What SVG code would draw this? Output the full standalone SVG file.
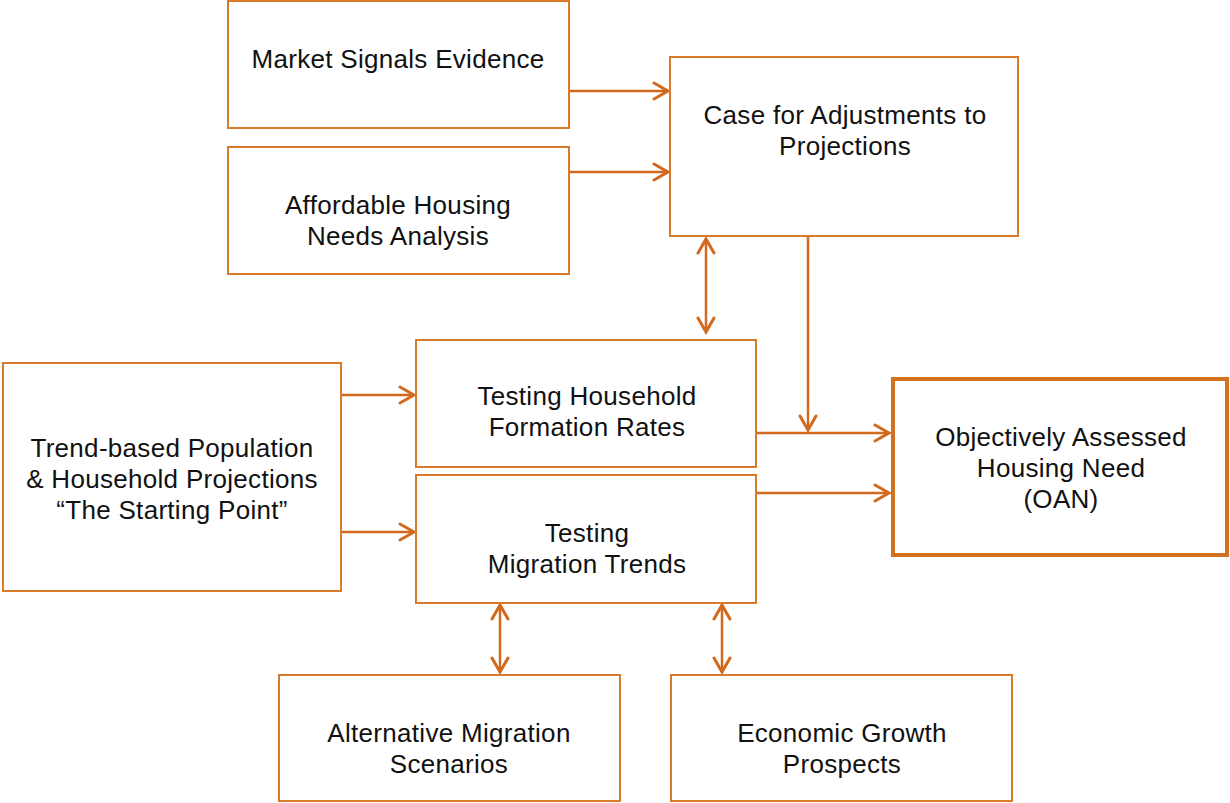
<svg xmlns="http://www.w3.org/2000/svg" width="1230" height="803" viewBox="0 0 1230 803">
<defs>
<marker id="ah" viewBox="0 0 20 20" refX="17" refY="10" markerWidth="20" markerHeight="20" markerUnits="userSpaceOnUse" orient="auto-start-reverse">
<path d="M3,2 L17,10 L3,18" fill="none" stroke="#D2691E" stroke-width="3" stroke-linecap="round" stroke-linejoin="miter"/>
</marker>
<style>
.box{fill:#fff;stroke:#D97A2B;stroke-width:2}
.main{fill:#fff;stroke:#D2711F;stroke-width:4}
.t{font-family:"Liberation Sans",Arial,sans-serif;font-size:26px;letter-spacing:0.3px;fill:#111;text-anchor:middle}
.c{fill:none;stroke:#D2691E;stroke-width:2.5}
</style>
</defs>
<rect width="1230" height="803" fill="#fff"/>
<g id="connectors">
<line class="c" x1="569" y1="91" x2="668" y2="91" marker-end="url(#ah)"/>
<line class="c" x1="569" y1="172" x2="668" y2="172" marker-end="url(#ah)"/>
<line class="c" x1="706" y1="239" x2="706" y2="332" marker-start="url(#ah)" marker-end="url(#ah)"/>
<line class="c" x1="808" y1="236" x2="808" y2="430" marker-end="url(#ah)"/>
<line class="c" x1="756" y1="433" x2="889" y2="433" marker-end="url(#ah)"/>
<line class="c" x1="756" y1="493" x2="889" y2="493" marker-end="url(#ah)"/>
<line class="c" x1="341" y1="395" x2="414" y2="395" marker-end="url(#ah)"/>
<line class="c" x1="341" y1="532" x2="414" y2="532" marker-end="url(#ah)"/>
<line class="c" x1="500" y1="605" x2="500" y2="672" marker-start="url(#ah)" marker-end="url(#ah)"/>
<line class="c" x1="722" y1="605" x2="722" y2="672" marker-start="url(#ah)" marker-end="url(#ah)"/>
</g>
<g id="market">
<rect class="box" x="228" y="1" width="341" height="127"/>
<text class="t" x="398" y="67.5">Market Signals Evidence</text>
</g>
<g id="affordable">
<rect class="box" x="228" y="147" width="341" height="127"/>
<text class="t" x="398" y="214">Affordable Housing</text>
<text class="t" x="398" y="245">Needs Analysis</text>
</g>
<g id="case">
<rect class="box" x="670" y="57" width="348" height="179"/>
<text class="t" x="845" y="124">Case for Adjustments to</text>
<text class="t" x="845" y="155">Projections</text>
</g>
<g id="trend">
<rect class="box" x="3" y="363" width="338" height="228"/>
<text class="t" x="172" y="457">Trend-based Population</text>
<text class="t" x="172" y="488">&amp; Household Projections</text>
<text class="t" x="172" y="519">“The Starting Point”</text>
</g>
<g id="testing-hh">
<rect class="box" x="416" y="340" width="340" height="127"/>
<text class="t" x="587" y="405">Testing Household</text>
<text class="t" x="587" y="436">Formation Rates</text>
</g>
<g id="testing-migration">
<rect class="box" x="416" y="475" width="340" height="128"/>
<text class="t" x="587" y="542">Testing</text>
<text class="t" x="587" y="573">Migration Trends</text>
</g>
<g id="oan">
<rect class="main" x="893" y="379" width="334" height="176"/>
<text class="t" x="1061" y="446">Objectively Assessed</text>
<text class="t" x="1061" y="477">Housing Need</text>
<text class="t" x="1061" y="508">(OAN)</text>
</g>
<g id="alternative">
<rect class="box" x="279" y="675" width="341" height="126"/>
<text class="t" x="449" y="742">Alternative Migration</text>
<text class="t" x="449" y="773">Scenarios</text>
</g>
<g id="economic">
<rect class="box" x="671" y="675" width="341" height="126"/>
<text class="t" x="842" y="742">Economic Growth</text>
<text class="t" x="842" y="773">Prospects</text>
</g>
</svg>
